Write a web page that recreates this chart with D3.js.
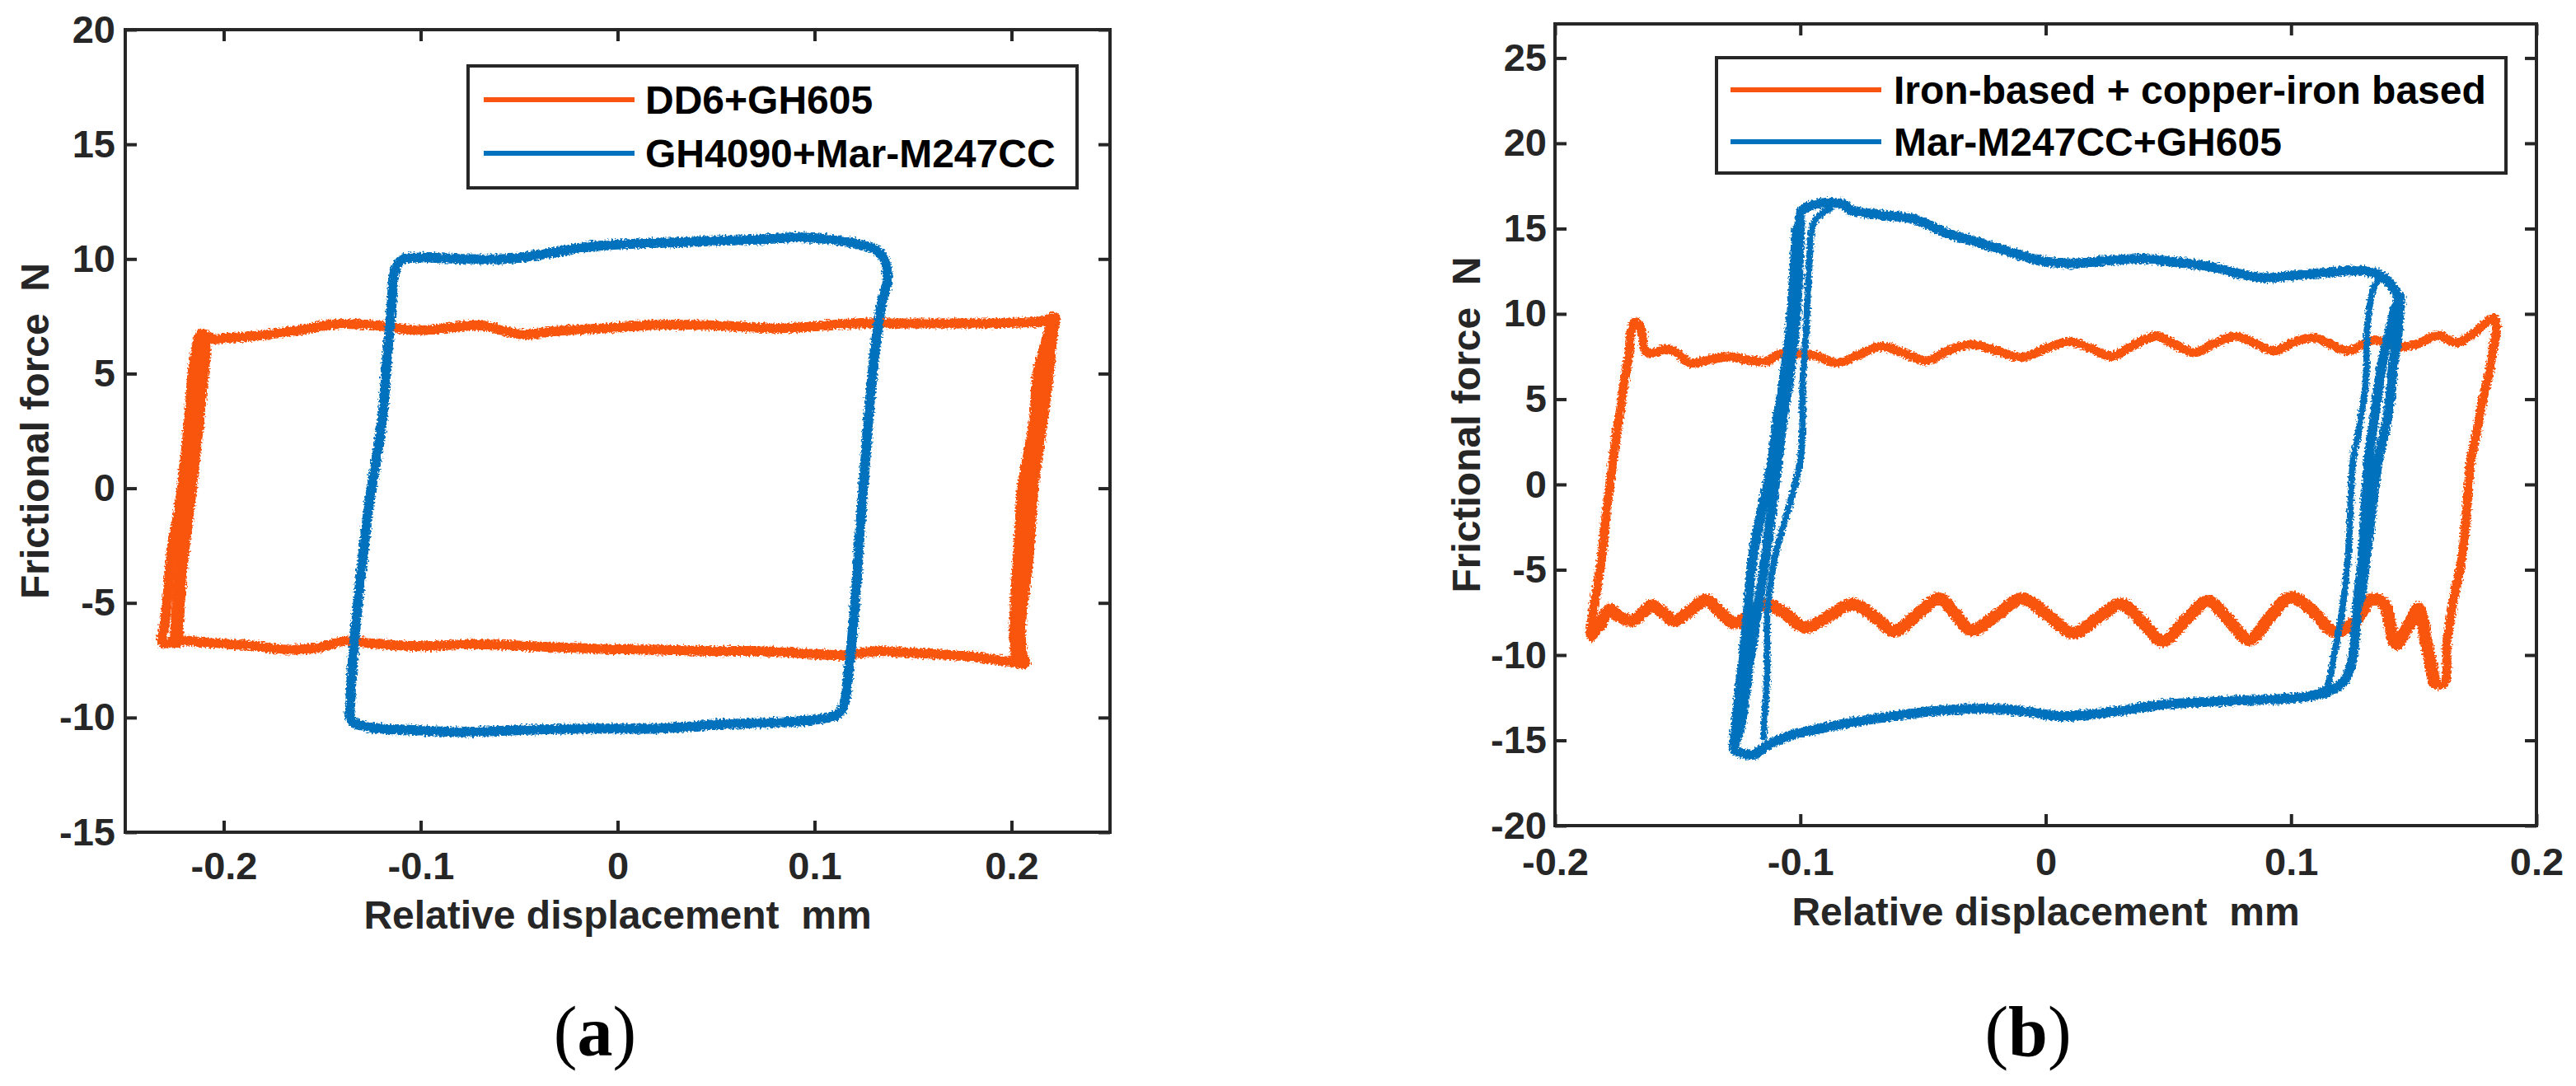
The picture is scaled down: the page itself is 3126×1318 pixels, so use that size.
<!DOCTYPE html>
<html>
<head>
<meta charset="utf-8">
<script src="https://cdn.jsdelivr.net/npm/d3@7"></script>
<style>
  html, body { margin: 0; padding: 0; background: #fff; }
  svg { display: block; }
</style>
</head>
<body>
<div id="fig"></div>
<script>
// ---------- data ----------
const xTicksA = [-0.2, -0.1, 0, 0.1, 0.2];
const yTicksA = [-15, -10, -5, 0, 5, 10, 15, 20];
const xTicksB = [-0.2, -0.1, 0, 0.1, 0.2];
const yTicksB = [-20, -15, -10, -5, 0, 5, 10, 15, 20, 25];
const legendA = ['DD6+GH605', 'GH4090+Mar-M247CC'];
const legendB = ['Iron-based + copper-iron based', 'Mar-M247CC+GH605'];
const panelLabels = ['a', 'b'];

// (a) DD6+GH605 loop, [displacement mm, force N]
const dd6Gh605 = [
  [-0.2116, 6.74], [-0.2052, 6.5], [-0.1987, 6.56], [-0.1858, 6.62], [-0.1644, 6.86], [-0.1429, 7.16],
  [-0.1215, 7.1], [-0.1, 6.89], [-0.07, 7.1], [-0.0485, 6.71], [-0.0313, 6.86], [-0.0056, 6.98],
  [0.0202, 7.13], [0.0502, 7.1], [0.0803, 6.98], [0.0974, 7.04], [0.1189, 7.19], [0.1489, 7.19],
  [0.179, 7.19], [0.2004, 7.22], [0.2155, 7.28], [0.2219, 7.46],
  [0.221, 6.8], [0.2189, 4.98], [0.2163, 3.17], [0.2133, 1.36], [0.2112, 0], [0.2099, -1.66],
  [0.2082, -3.47], [0.206, -4.98], [0.2047, -6.19], [0.2056, -7.25], [0.2069, -7.64],
  [0.1983, -7.55], [0.179, -7.34], [0.1446, -7.16], [0.1318, -7.1], [0.1146, -7.28], [0.0931, -7.19],
  [0.0717, -7.1], [0.0502, -7.1], [0.0202, -7.04], [-0.0056, -7.01], [-0.0356, -6.92], [-0.0742, -6.8],
  [-0.1, -6.89], [-0.1215, -6.8], [-0.1386, -6.65], [-0.1515, -6.95], [-0.1687, -7.04], [-0.1858, -6.86],
  [-0.2073, -6.74], [-0.2223, -6.65], [-0.2309, -6.74],
  [-0.23, -5.89], [-0.2288, -4.98], [-0.2266, -2.87], [-0.2225, -0.76], [-0.2195, 1.36], [-0.2175, 3.17],
  [-0.2159, 4.98], [-0.2137, 6.19]
];
// later cycles running beside the two steep edges
const dd6Gh605LeftInner = [
  [-0.2241, -6.7], [-0.223, -4.98], [-0.2225, -4.33], [-0.221, -2.87], [-0.218, -0.76], [-0.2153, 1.36],
  [-0.213, 3.17], [-0.211, 4.98], [-0.21, 5.84], [-0.2105, 6.6]
];
const dd6Gh605RightInner = [
  [0.2205, 7.0], [0.214, 4.98], [0.2125, 3.17], [0.209, 1.36], [0.206, 0], [0.205, -1.66],
  [0.2037, -3.47], [0.2027, -4.98], [0.202, -6.19], [0.203, -7.3]
];

// (a) GH4090+Mar-M247CC loop
const gh4090Mar = [
  [-0.1129, 9.52], [-0.1094, 9.97], [-0.1, 10.06], [-0.0785, 10.0], [-0.0571, 10.0], [-0.0356, 10.24],
  [-0.0142, 10.54], [0.0073, 10.66], [0.0288, 10.72], [0.0502, 10.79], [0.0717, 10.85], [0.0931, 10.94],
  [0.1082, 10.85], [0.121, 10.66], [0.1318, 10.36], [0.1361, 9.82], [0.1369, 9.06], [0.1339, 8.0],
  [0.1309, 6.19], [0.1275, 3.17], [0.1249, 0.15], [0.1232, -1.66], [0.1206, -4.98], [0.1176, -7.7],
  [0.1146, -9.52], [0.1112, -9.88], [0.0974, -10.12], [0.0717, -10.24], [0.0502, -10.3], [0.0202, -10.48],
  [-0.0142, -10.48], [-0.0485, -10.54], [-0.0785, -10.63], [-0.1043, -10.54], [-0.1258, -10.42],
  [-0.1352, -10.12], [-0.1356, -9.21], [-0.1343, -7.4], [-0.1322, -5.29], [-0.1292, -2.87],
  [-0.1258, -0.45], [-0.1223, 1.36], [-0.1193, 3.17], [-0.1172, 5.59], [-0.115, 7.7]
];

// (b) Iron-based + copper-iron based loop, in four edges
const ironLeft = [
  [-0.1854, -8.95], [-0.1846, -7.58], [-0.1828, -5.97], [-0.181, -4.35], [-0.179, -1.58], [-0.1763, 1.44],
  [-0.175, 2.88], [-0.1732, 4.49], [-0.1716, 6.09], [-0.1698, 7.7], [-0.169, 8.98], [-0.1672, 9.54]
];
const ironTop = [
  [-0.1646, 8.98], [-0.1633, 7.86], [-0.1607, 7.7], [-0.1542, 7.94], [-0.1502, 7.7], [-0.145, 7.13],
  [-0.1372, 7.3], [-0.1294, 7.5], [-0.1216, 7.3], [-0.1138, 7.22], [-0.1086, 7.62], [-0.0982, 7.62],
  [-0.0929, 7.5], [-0.0851, 7.13], [-0.076, 7.62], [-0.0669, 8.1], [-0.0578, 7.7], [-0.0487, 7.25],
  [-0.0395, 7.86], [-0.0304, 8.21], [-0.02, 7.83], [-0.0096, 7.46], [0.0008, 8.02], [0.01, 8.37],
  [0.0191, 7.94], [0.0269, 7.5], [0.036, 8.18], [0.0451, 8.69], [0.0529, 8.18], [0.0607, 7.73],
  [0.0686, 8.26], [0.0777, 8.69], [0.0855, 8.26], [0.0933, 7.83], [0.1011, 8.34], [0.1089, 8.61],
  [0.1154, 8.26], [0.1233, 7.83], [0.1337, 8.47], [0.1441, 8.05], [0.1519, 8.26], [0.1597, 8.74],
  [0.1675, 8.31], [0.1741, 8.82], [0.1793, 9.46], [0.1827, 9.75]
];
const ironRight = [
  [0.1837, 9.3], [0.1821, 7.7], [0.18, 6.09], [0.1774, 4.49], [0.1754, 2.88], [0.1733, 1.44],
  [0.1713, -2.0], [0.1696, -4.35], [0.1662, -6.77], [0.1636, -9.19], [0.1623, -11.69]
];
const ironBottom = [
  [0.1584, -11.61], [0.155, -9.19], [0.1519, -7.26], [0.148, -8.23], [0.1428, -9.35], [0.1376, -6.94],
  [0.1324, -6.77], [0.1259, -8.06], [0.1175, -8.63], [0.1089, -7.42], [0.0998, -6.61], [0.0915, -7.74],
  [0.0829, -9.11], [0.0743, -7.9], [0.066, -6.85], [0.0568, -7.98], [0.0477, -9.19], [0.0394, -8.06],
  [0.0308, -7.02], [0.0212, -7.82], [0.0113, -8.71], [0.0008, -7.66], [-0.0096, -6.69], [-0.02, -7.66],
  [-0.0304, -8.55], [-0.0369, -7.58], [-0.0434, -6.69], [-0.0526, -7.66], [-0.0617, -8.58], [-0.07, -7.74],
  [-0.0786, -7.02], [-0.0877, -7.66], [-0.0982, -8.39], [-0.106, -7.58], [-0.1138, -7.02], [-0.1203, -7.58],
  [-0.1268, -8.15], [-0.1325, -7.5], [-0.1385, -6.77], [-0.145, -7.42], [-0.1515, -7.98], [-0.156, -7.5],
  [-0.1607, -7.1], [-0.1646, -7.58], [-0.1685, -7.98], [-0.1737, -7.74], [-0.1776, -7.34], [-0.1815, -8.23]
];

// (b) Mar-M247CC+GH605 outer loop and the traces of the other cycles
const marGh605 = [
  [-0.1268, -15.56], [-0.1242, -14.03], [-0.1211, -10.81], [-0.1177, -7.58], [-0.1143, -4.35],
  [-0.1091, 1.44], [-0.1073, 3.68], [-0.1047, 6.09], [-0.1021, 9.3], [-0.1008, 12.51], [-0.1002, 14.92],
  [-0.0995, 16.04], [-0.0955, 16.36], [-0.0877, 16.52], [-0.0825, 16.44], [-0.0799, 16.12],
  [-0.0669, 15.8], [-0.0539, 15.56], [-0.0408, 14.76], [-0.0278, 14.2], [-0.0148, 13.64], [-0.0018, 13.12],
  [0.0113, 12.96], [0.0243, 13.12], [0.0399, 13.23], [0.0529, 13.03], [0.066, 12.8], [0.079, 12.35],
  [0.0894, 12.11], [0.1024, 12.27], [0.1154, 12.43], [0.1272, 12.54], [0.1363, 12.27], [0.1415, 11.55],
  [0.1436, 10.91], [0.142, 10.1], [0.1394, 8.5], [0.1368, 6.89], [0.1353, 5.29], [0.1337, 3.68],
  [0.1316, 1.44], [0.129, -4.35], [0.1272, -6.77], [0.1259, -9.19], [0.1246, -10.48], [0.122, -11.45],
  [0.116, -12.1], [0.1076, -12.42], [0.0946, -12.58], [0.079, -12.66], [0.0633, -12.77], [0.0477, -12.9],
  [0.0321, -13.23], [0.0191, -13.47], [0.006, -13.58], [-0.007, -13.34], [-0.02, -13.15], [-0.0408, -13.23],
  [-0.0565, -13.47], [-0.0721, -13.79], [-0.0877, -14.19], [-0.1034, -14.68], [-0.1138, -15.32],
  [-0.119, -15.84], [-0.1242, -15.73]
];
const marGh605OuterLeft = [
  [-0.1272, -15.2], [-0.1262, -14.0], [-0.1238, -10.81], [-0.1215, -7.58], [-0.1195, -4.35],
  [-0.1115, 1.44], [-0.1095, 3.68], [-0.1068, 6.09], [-0.104, 9.3], [-0.1025, 12.5], [-0.1015, 15.0]
];
const marGh605InnerLeft = [
  [-0.1151, -14.84], [-0.1135, -10.81], [-0.1135, -7.58], [-0.1105, -4.35], [-0.1, 1.44],
  [-0.099, 6.09], [-0.0975, 9.3], [-0.0965, 12.5], [-0.094, 15.5], [-0.0877, 16.2]
];
const marGh605OuterRight = [
  [0.1445, 11.0], [0.1432, 8.5], [0.1415, 6.89], [0.1405, 5.29], [0.139, 3.68], [0.1355, 1.44],
  [0.1305, -4.35], [0.1282, -6.77]
];
const marGh605InnerRight = [
  [0.1363, 12.1], [0.1337, 11.55], [0.1311, 9.3], [0.1305, 6.09], [0.1272, 2.88], [0.1253, 1.44],
  [0.1232, -4.35], [0.1206, -7.58], [0.1175, -10.0], [0.1141, -11.94], [0.108, -12.3]
];

// ---------- drawing ----------
const W = 3126, H = 1318;
const ORANGE = '#FA5510', BLUE = '#0072BD', INK = '#262626';
const SANS = '"Liberation Sans", Arial, Helvetica, sans-serif';

const svg = d3.select('#fig').append('svg').attr('width', W).attr('height', H);
svg.append('rect').attr('width', W).attr('height', H).attr('fill', '#fff');

// jagged edge of the measured traces
const rough = svg.append('defs').append('filter').attr('id', 'rough')
  .attr('filterUnits', 'userSpaceOnUse').attr('x', 0).attr('y', 0).attr('width', W).attr('height', H);
rough.append('feTurbulence').attr('type', 'fractalNoise').attr('baseFrequency', 0.45)
  .attr('numOctaves', 1).attr('seed', 4).attr('result', 'noise');
rough.append('feDisplacementMap').attr('in', 'SourceGraphic').attr('in2', 'noise')
  .attr('scale', 8).attr('xChannelSelector', 'R').attr('yChannelSelector', 'G');

function drawPanel(p) {
  const x = d3.scaleLinear().domain(p.xDomain).range([p.left, p.right]);
  const y = d3.scaleLinear().domain(p.yDomain).range([p.bottom, p.top]);
  const g = svg.append('g');

  const open = d3.line().x(d => x(d[0])).y(d => y(d[1])).curve(d3.curveCatmullRom.alpha(0.5));
  const closed = d3.line().x(d => x(d[0])).y(d => y(d[1])).curve(d3.curveCatmullRomClosed.alpha(0.5));

  const data = g.append('g').attr('filter', 'url(#rough)');
  p.traces.forEach(t => {
    data.append('path')
      .attr('d', (t.closed ? closed : open)(t.data))
      .attr('fill', 'none')
      .attr('stroke', t.color)
      .attr('stroke-width', t.width)
      .attr('stroke-linejoin', 'round')
      .attr('stroke-linecap', 'round');
  });

  const fmt = d => String(d);
  const styleAxis = sel => {
    sel.attr('font-size', 47).attr('font-family', SANS).attr('font-weight', 'bold').attr('color', INK);
    sel.select('.domain').remove();
    sel.selectAll('.tick line').attr('stroke-width', 4);
  };
  g.append('g').attr('transform', `translate(0,${p.bottom})`)
    .call(d3.axisBottom(x).tickValues(p.xTicks).tickFormat(fmt).tickSizeInner(-14).tickSizeOuter(0).tickPadding(p.xPad))
    .call(styleAxis);
  g.append('g').attr('transform', `translate(0,${p.top})`)
    .call(d3.axisTop(x).tickValues(p.xTicks).tickFormat('').tickSizeInner(-14).tickSizeOuter(0))
    .call(styleAxis);
  g.append('g').attr('transform', `translate(${p.left},0)`)
    .call(d3.axisLeft(y).tickValues(p.yTicks).tickFormat(fmt).tickSizeInner(-14).tickSizeOuter(0).tickPadding(p.yPad))
    .call(styleAxis);
  g.append('g').attr('transform', `translate(${p.right},0)`)
    .call(d3.axisRight(y).tickValues(p.yTicks).tickFormat('').tickSizeInner(-14).tickSizeOuter(0))
    .call(styleAxis);

  g.append('rect')
    .attr('x', p.left).attr('y', p.top)
    .attr('width', p.right - p.left).attr('height', p.bottom - p.top)
    .attr('fill', 'none').attr('stroke', INK).attr('stroke-width', 4);

  // axis titles
  g.append('text')
    .attr('x', (p.left + p.right) / 2).attr('y', p.xTitleY)
    .attr('text-anchor', 'middle')
    .attr('font-family', SANS).attr('font-weight', 'bold').attr('font-size', 48).attr('fill', INK)
    .style('white-space', 'pre')
    .text('Relative displacement  mm');
  g.append('text')
    .attr('transform', `translate(${p.yTitleX},${(p.top + p.bottom) / 2}) rotate(-90)`)
    .attr('text-anchor', 'middle')
    .attr('font-family', SANS).attr('font-weight', 'bold').attr('font-size', 48).attr('fill', INK)
    .style('white-space', 'pre')
    .text('Frictional force  N');

  // legend
  const L = p.legend;
  const lg = g.append('g');
  lg.append('rect').attr('x', L.x).attr('y', L.y).attr('width', L.w).attr('height', L.h)
    .attr('fill', '#fff').attr('stroke', INK).attr('stroke-width', 4);
  p.names.forEach((name, i) => {
    const ly = L.row0 + i * L.dy;
    lg.append('line').attr('x1', L.lineX0).attr('x2', L.lineX1).attr('y1', ly).attr('y2', ly)
      .attr('stroke', p.colors[i]).attr('stroke-width', 6);
    lg.append('text').attr('x', L.textX).attr('y', ly + 17)
      .attr('font-family', SANS).attr('font-weight', 'bold').attr('font-size', 48).attr('fill', '#000')
      .text(name);
  });

  // panel label (a)/(b)
  const lab = g.append('text').attr('x', p.labelX).attr('y', 1281).attr('text-anchor', 'middle')
    .attr('font-family', '"Liberation Serif", "Times New Roman", serif').attr('font-size', 86).attr('fill', '#000');
  lab.append('tspan').text('(');
  lab.append('tspan').attr('font-weight', 'bold').text(p.label);
  lab.append('tspan').text(')');
}

drawPanel({
  left: 152, right: 1347, top: 36, bottom: 1010,
  xDomain: [-0.25, 0.25], yDomain: [-15, 20],
  xTicks: xTicksA, yTicks: yTicksA, xPad: 24, yPad: 12,
  xTitleY: 1127, yTitleX: 59,
  names: legendA, colors: [ORANGE, BLUE],
  legend: { x: 568, y: 80, w: 739, h: 148, row0: 121, dy: 65, lineX0: 587, lineX1: 770, textX: 783 },
  label: panelLabels[0], labelX: 722,
  traces: [
    { data: dd6Gh605, closed: true, color: ORANGE, width: 12 },
    { data: dd6Gh605LeftInner, closed: false, color: ORANGE, width: 16 },
    { data: dd6Gh605RightInner, closed: false, color: ORANGE, width: 16 },
    { data: gh4090Mar, closed: true, color: BLUE, width: 12 }
  ]
});

drawPanel({
  left: 1887, right: 3078, top: 29, bottom: 1002,
  xDomain: [-0.2, 0.2], yDomain: [-20, 27],
  xTicks: xTicksB, yTicks: yTicksB, xPad: 27, yPad: 10,
  xTitleY: 1123, yTitleX: 1796,
  names: legendB, colors: [ORANGE, BLUE],
  legend: { x: 2083, y: 70, w: 958, h: 140, row0: 109, dy: 63, lineX0: 2100, lineX1: 2283, textX: 2298 },
  label: panelLabels[1], labelX: 2461,
  traces: [
    { data: ironLeft.concat(ironTop, ironRight, ironBottom), closed: true, color: ORANGE, width: 11 },
    { data: ironBottom, closed: false, color: ORANGE, width: 15 },
    { data: marGh605, closed: true, color: BLUE, width: 12 },
    { data: marGh605OuterLeft, closed: false, color: BLUE, width: 12 },
    { data: marGh605InnerLeft, closed: false, color: BLUE, width: 8 },
    { data: marGh605OuterRight, closed: false, color: BLUE, width: 12 },
    { data: marGh605InnerRight, closed: false, color: BLUE, width: 8 }
  ]
});
</script>
</body>
</html>
